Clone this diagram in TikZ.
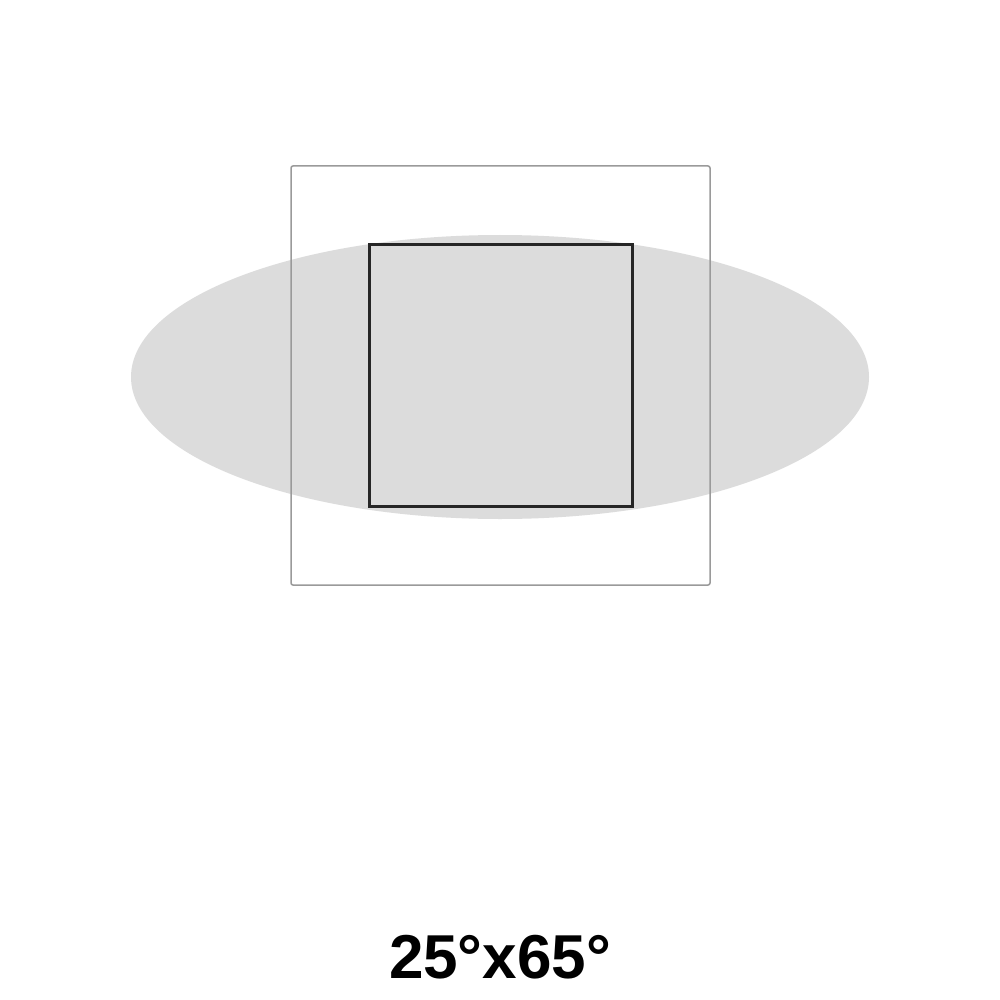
\documentclass[tikz,border=0pt]{standalone}
\usepackage{fontspec}
\setmainfont{Liberation Sans}
\begin{document}
\begin{tikzpicture}[x=1pt,y=-1pt,
  beam/.style={fill=beamgray, draw=none},
  frame/.style={draw=framegray, line width=1.5pt, rounded corners=2pt},
  chip/.style={draw=black!85, line width=3pt, fill=beamgray},
  caption/.style={font=\bfseries\fontsize{62}{66}\selectfont, anchor=base, inner sep=0pt}]
\definecolor{beamgray}{HTML}{DCDCDC}
\definecolor{framegray}{HTML}{9A9A9A}
\useasboundingbox (0,0) rectangle (1000,1000);
\fill[white] (0,0) rectangle (1000,1000);
\path[beam] (500,377) ellipse [x radius=369, y radius=142];
\draw[frame] (291,166) rectangle (710,585);
\draw[chip] (369,244) rectangle (632,506);
\node[caption] (lbl) at (500,978) {25°x65°};
\end{tikzpicture}
\end{document}
